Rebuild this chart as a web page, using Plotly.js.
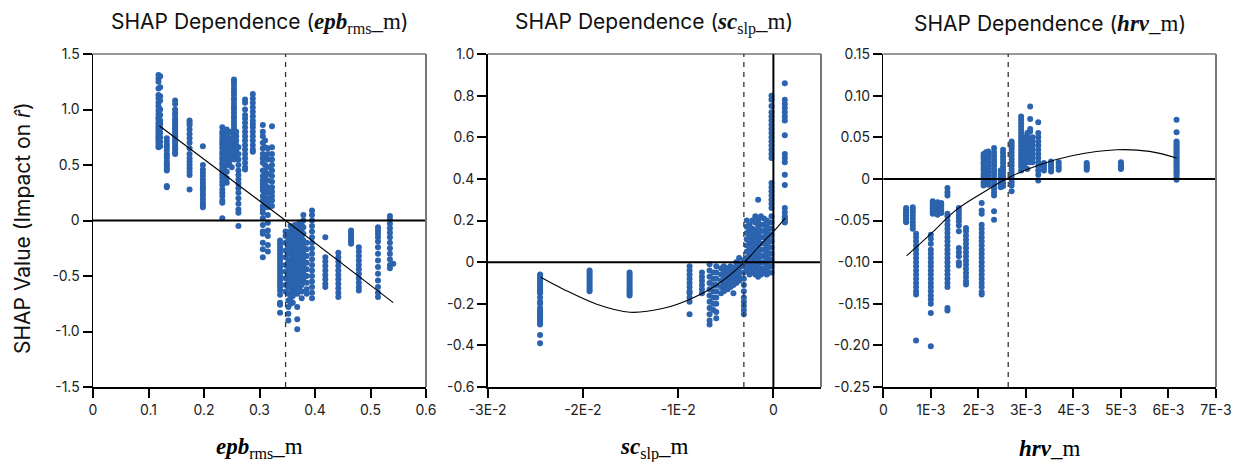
<!DOCTYPE html>
<html><head><meta charset="utf-8">
<script src="https://cdn.plot.ly/plotly-3.0.1.min.js"></script>
<style>html,body{margin:0;padding:0;background:#fff}</style>
</head><body><div id="chart" style="width:1237px;height:462px"></div>
<script>
// ---- Panel 1: epb_rms_m (x of each column, SHAP values in that column)
const epbColX = [0.118,0.121,0.133,0.148,0.174,0.198,0.233,0.237,0.241,0.246,0.25,0.254,0.258,0.262,0.274,0.288,0.306,0.31,0.315,0.3225,
  0.337,0.347,0.352,0.356,0.36,0.364,0.368,0.372,0.376,0.379,0.385,0.3946,0.4186,0.442,0.465,0.479,0.5135,0.535,0.541];
const epbColY = [
 [1.31,1.28,1.25,1.19,1.13,1.1,1.06,1.03,0.99,0.96,0.93,0.91,0.88,0.86,0.84,0.82,0.8,0.78,0.76,0.74,0.72,0.7,0.68,0.66],
 [1.3,1.2,1.12,1.08,1.0,0.95,0.9,0.87,0.83,0.79,0.75,0.71,0.67],
 [0.74,0.71,0.68,0.66,0.63,0.6,0.58,0.56,0.53,0.51,0.49,0.47,0.45,0.31,0.3],
 [1.08,1.05,1.0,0.97,0.95,0.92,0.9,0.88,0.86,0.84,0.82,0.8,0.78,0.76,0.74,0.72,0.7,0.68,0.66,0.64,0.61,0.6],
 [0.9,0.88,0.86,0.82,0.78,0.74,0.7,0.65,0.6,0.56,0.53,0.5,0.47,0.44,0.41,0.28],
 [0.67,0.5,0.46,0.43,0.4,0.37,0.34,0.31,0.29,0.27,0.24,0.22,0.19,0.16,0.14,0.12],
 [0.84,0.8,0.78,0.75,0.72,0.7,0.68,0.65,0.62,0.6,0.57,0.55,0.52,0.5,0.47,0.44,0.41,0.38,0.35,0.32,0.28,0.25,0.22,0.18,0.16,0.02],
 [0.78,0.72,0.66,0.62,0.58,0.54,0.5,0.46,0.42],
 [0.82,0.76,0.7,0.64,0.6,0.56,0.5,0.44,0.38,0.34],
 [0.8,0.74,0.7,0.66,0.62,0.58,0.54,0.5],
 [0.79,0.73,0.68,0.64,0.6,0.56,0.48],
 [1.27,1.25,1.22,1.19,1.16,1.13,1.1,1.08,1.05,1.02,1.0,0.97,0.94,0.92,0.89,0.86,0.83,0.8,0.77,0.74,0.71,0.68,0.65,0.62,0.58,0.55],
 [0.8,0.76,0.72,0.68,0.64,0.6],
 [0.66,0.6,0.55,0.5,0.45,0.41,0.37,0.33,0.29,0.25,0.2,0.15,0.1,0.07,-0.05],
 [1.09,1.06,1.0,0.95,0.92,0.88,0.84,0.8,0.76,0.72,0.68,0.64,0.6,0.56,0.52,0.48,0.46],
 [1.14,1.1,1.06,1.02,0.98,0.94,0.9,0.87,0.84,0.8,0.76,0.72,0.68,0.64,0.62],
 [0.86,0.8,0.76,0.7,0.65,0.6,0.56,0.52,0.45,0.4,0.36,0.33,0.3,0.27,0.22,0.18,0.13,0.1,0.07,0.02,-0.04,-0.1,-0.12,-0.2,-0.26,-0.33],
 [0.72,0.66,0.58,0.5,0.44,0.38,0.32,0.26,0.2,0.15],
 [0.65,0.6,0.55,0.48,0.42,0.36,0.3,0.25,0.2,0.16,0.12,0.05,-0.02,-0.09,-0.14,-0.22,-0.28],
 [0.85,0.66,0.6,0.55,0.5,0.45,0.4,0.35,0.3,0.26,0.22,0.18,0.13],
 [-0.18,-0.21,-0.24,-0.27,-0.3,-0.33,-0.36,-0.39,-0.42,-0.45,-0.48,-0.51,-0.54,-0.57,-0.6,-0.63,-0.67,-0.74,-0.76,-0.83],
 [-0.1,-0.14,-0.2,-0.27,-0.33,-0.4,-0.46,-0.52,-0.58,-0.64],
 [-0.12,-0.18,-0.24,-0.3,-0.36,-0.42,-0.48,-0.54,-0.6,-0.66,-0.72,-0.78,-0.84,-0.9],
 [-0.05,-0.1,-0.15,-0.2,-0.25,-0.3,-0.35,-0.4,-0.45,-0.5,-0.55,-0.6,-0.65,-0.7,-0.75],
 [-0.08,-0.14,-0.2,-0.26,-0.32,-0.38,-0.44,-0.5,-0.56,-0.62,-0.68,-0.74],
 [-0.04,-0.1,-0.16,-0.22,-0.28,-0.34,-0.4,-0.46,-0.52,-0.58,-0.64],
 [-0.06,-0.12,-0.18,-0.24,-0.3,-0.36,-0.42,-0.48,-0.54,-0.6,-0.66,-0.78,-0.89,-0.98],
 [-0.02,-0.08,-0.14,-0.2,-0.26,-0.32,-0.38,-0.44,-0.5,-0.56,-0.62],
 [-0.04,-0.1,-0.16,-0.22,-0.28,-0.34,-0.4,-0.46,-0.52,-0.58,-0.64,-0.7],
 [0.05,0.0,-0.06,-0.12,-0.18,-0.24,-0.3,-0.36,-0.42,-0.48,-0.54],
 [-0.2,-0.26,-0.32,-0.38,-0.44,-0.5,-0.56,-0.62,-0.66],
 [0.09,0.05,0.0,-0.05,-0.1,-0.15,-0.2,-0.25,-0.3,-0.35,-0.4,-0.45,-0.5,-0.55,-0.6,-0.65,-0.7],
 [-0.15,-0.33,-0.37,-0.41,-0.45,-0.49,-0.53,-0.57,-0.6],
 [-0.29,-0.33,-0.37,-0.41,-0.45,-0.49,-0.53,-0.57,-0.61,-0.65,-0.69],
 [-0.09,-0.11,-0.13,-0.15,-0.17,-0.19,-0.21],
 [-0.24,-0.28,-0.32,-0.36,-0.4,-0.44,-0.48,-0.52,-0.56,-0.6,-0.63],
 [-0.06,-0.09,-0.12,-0.15,-0.19,-0.24,-0.3,-0.36,-0.42,-0.48,-0.54,-0.6,-0.65,-0.69],
 [0.04,0.01,-0.03,-0.07,-0.11,-0.15,-0.2,-0.25,-0.3,-0.35,-0.4,-0.43],
 [-0.39]
];
const epbFitX = [0.1195, 0.347, 0.541];
const epbFitY = [0.854, 0.0, -0.74];
const epbCut = 0.347;

// ---- Panel 2: sc_slp_m
const scColX = [-0.0245,-0.0193,-0.0151,-0.0088,-0.0075,-0.0067,-0.0063,-0.006,-0.0055,-0.0052,-0.0048,-0.0045,-0.0042,-0.0039,-0.0036,-0.0031,
  -0.0028,-0.0025,-0.0022,-0.0019,-0.0016,-0.0013,-0.001,-0.0007,-0.0004,-0.0002,0.0012];
const scColY = [
 [-0.06,-0.07,-0.08,-0.09,-0.1,-0.11,-0.12,-0.13,-0.14,-0.15,-0.17,-0.19,-0.2,-0.22,-0.23,-0.24,-0.25,-0.26,-0.27,-0.28,-0.29,-0.3,-0.35,-0.39],
 [-0.04,-0.05,-0.06,-0.07,-0.08,-0.09,-0.1,-0.11,-0.12,-0.13,-0.14],
 [-0.05,-0.06,-0.07,-0.08,-0.09,-0.1,-0.11,-0.12,-0.13,-0.14,-0.15,-0.16],
 [-0.02,-0.04,-0.06,-0.08,-0.1,-0.12,-0.14,-0.15,-0.17,-0.19,-0.25],
 [-0.05,-0.07,-0.09,-0.11,-0.13,-0.15],
 [-0.01,-0.04,-0.07,-0.1,-0.13,-0.16,-0.19,-0.22,-0.25,-0.28,-0.3],
 [-0.05,-0.08,-0.11,-0.14,-0.17,-0.2,-0.23],
 [-0.02,-0.05,-0.08,-0.11,-0.14,-0.17,-0.2,-0.24,-0.27],
 [-0.03,-0.06,-0.09,-0.12,-0.15],
 [-0.02,-0.04,-0.06,-0.08,-0.1,-0.12,-0.14],
 [-0.03,-0.05,-0.07,-0.09,-0.11,-0.13],
 [-0.02,-0.04,-0.06,-0.08,-0.1,-0.12],
 [-0.03,-0.05,-0.07,-0.09,-0.11,-0.15],
 [0.0,-0.02,-0.04,-0.06,-0.08,-0.1],
 [0.02,-0.01,-0.03,-0.05,-0.07,-0.09],
 [0.01,-0.02,-0.05,-0.08,-0.11,-0.14,-0.17,-0.19,-0.21,-0.23,-0.25],
 [0.2,0.17,0.14,0.11,0.08,0.05,0.02,-0.01,-0.04],
 [0.18,0.15,0.12,0.09,0.06,0.03,0.0,-0.03,-0.06],
 [0.2,0.16,0.13,0.1,0.07,0.04,0.01,-0.02,-0.05],
 [0.22,0.19,0.15,0.12,0.09,0.06,0.03,0.0,-0.03,-0.06],
 [0.3,0.2,0.17,0.14,0.11,0.08,0.05,0.02,-0.01,-0.04,-0.07],
 [0.22,0.18,0.15,0.12,0.09,0.06,0.03,0.0,-0.03,-0.06],
 [0.21,0.18,0.15,0.12,0.09,0.06,0.03,0.0,-0.03,-0.05],
 [0.2,0.17,0.14,0.11,0.08,0.05,0.02,-0.01,-0.04,-0.06],
 [0.19,0.16,0.13,0.1,0.07,0.04,0.01,-0.02,-0.05],
 [0.8,0.78,0.75,0.72,0.7,0.68,0.66,0.64,0.62,0.6,0.58,0.56,0.54,0.52,0.5,0.38,0.36,0.34,0.32,0.3,0.28,0.26,0.22,0.19,0.16,0.13,0.1,0.07,0.04,0.01,-0.02,-0.05],
 [0.86,0.78,0.76,0.74,0.72,0.7,0.68,0.61,0.52,0.5,0.48,0.42,0.37,0.26,0.24,0.22,0.21,0.2,0.19]
];
const scFitX = [-0.02443,-0.02206,-0.01855,-0.01505,-0.01155,-0.00875,-0.00595,-0.00315,-0.00105,0.00018,0.00123];
const scFitY = [-0.073,-0.130,-0.202,-0.241,-0.222,-0.178,-0.110,-0.005,0.099,0.155,0.211];
const scCut = -0.0031;

// ---- Panel 3: hrv_m
const hrvColX = [0.00048,0.00062,0.00069,0.001,0.00104,0.00114,0.00122,0.00135,0.00159,0.00174,0.00207,0.00211,0.00216,0.00221,0.00233,0.00247,0.00252,
  0.0027,0.0029,0.00297,0.00303,0.00309,0.00314,0.00326,0.00338,0.00353,0.00369,0.00428,0.005,0.00617];
const hrvColY = [
 [-0.035,-0.038,-0.04,-0.042,-0.044,-0.046,-0.048,-0.05,-0.052],
 [-0.034,-0.037,-0.04,-0.044,-0.048,-0.052,-0.056,-0.06],
 [-0.066,-0.07,-0.075,-0.08,-0.085,-0.09,-0.095,-0.1,-0.105,-0.11,-0.115,-0.12,-0.125,-0.13,-0.135,-0.139,-0.194],
 [-0.067,-0.072,-0.078,-0.085,-0.09,-0.095,-0.1,-0.105,-0.11,-0.115,-0.12,-0.125,-0.13,-0.135,-0.14,-0.145,-0.15,-0.161,-0.201],
 [-0.027,-0.03,-0.033,-0.036,-0.039,-0.042],
 [-0.028,-0.031,-0.034,-0.037,-0.04,-0.043],
 [-0.029,-0.032,-0.035,-0.038,-0.041],
 [-0.011,-0.016,-0.02,-0.042,-0.045,-0.05,-0.055,-0.06,-0.065,-0.07,-0.075,-0.08,-0.085,-0.09,-0.095,-0.1,-0.105,-0.11,-0.115,-0.12,-0.125,-0.13,-0.155,-0.158],
 [-0.035,-0.039,-0.043,-0.047,-0.051,-0.056,-0.063,-0.083,-0.088,-0.093,-0.1,-0.104],
 [-0.059,-0.063,-0.068,-0.073,-0.078,-0.083,-0.088,-0.093,-0.098,-0.103,-0.108,-0.113,-0.118,-0.123,-0.127],
 [-0.029,-0.038,-0.042,-0.055,-0.06,-0.065,-0.07,-0.075,-0.08,-0.085,-0.09,-0.095,-0.1,-0.105,-0.11,-0.115,-0.12,-0.125,-0.13,-0.136,-0.139],
 [0.03,0.027,0.024,0.02,0.017,0.013,0.01,0.006,0.003,0.0,-0.004,-0.008],
 [0.032,0.028,0.024,0.02,0.016,0.012,0.008,0.004,0.0,-0.004],
 [0.033,0.029,0.025,0.021,0.017,0.013,0.009,0.005,0.001,-0.003,-0.007],
 [0.037,0.032,0.028,0.024,0.02,0.016,0.012,0.008,0.004,0.0,-0.004,-0.008,-0.012,-0.016,-0.02,-0.039,-0.049],
 [0.01,0.006,0.002,-0.002,-0.006,-0.01],
 [0.035,0.031,0.027,0.023,0.019,0.015,0.011,0.007,0.003,-0.001,-0.005,-0.009],
 [0.045,0.042,0.039,0.036,0.032,0.028,0.024,0.02,0.016,0.012,0.008,0.004,0.0,-0.004,-0.008,-0.015],
 [0.075,0.071,0.067,0.063,0.059,0.055,0.051,0.047,0.043,0.039,0.035,0.031,0.027,0.023,0.019,0.015,0.01],
 [0.05,0.045,0.04,0.035,0.03,0.025,0.02,0.015],
 [0.055,0.05,0.045,0.04,0.035,0.03,0.025,0.02,0.012],
 [0.087,0.072,0.06,0.057,0.045,0.04,0.035,0.03,0.025,0.02],
 [0.05,0.045,0.04,0.035,0.03,0.025,0.02],
 [0.068,0.055,0.05,0.045,0.04,0.035,0.03,0.025,0.02,0.015,0.01,0.005,-0.002],
 [0.019,0.016,0.013,0.01],
 [0.021,0.018,0.015,0.012,0.009],
 [0.02,0.017,0.014,0.011],
 [0.019,0.017,0.015,0.013,0.011],
 [0.02,0.018,0.016,0.014,0.012],
 [0.071,0.056,0.045,0.043,0.041,0.039,0.037,0.035,0.033,0.031,0.029,0.027,0.025,0.023,0.021,0.019,0.017,0.015,0.013,0.011,0.009,0.007,0.005,0.002,-0.001]
];
const hrvFitX = [0.000491,0.000982,0.00154,0.0021,0.00262,0.00329,0.00399,0.00491,0.0056,0.00617];
const hrvFitY = [-0.0924,-0.067,-0.037,-0.0163,0.001,0.017,0.028,0.035,0.033,0.025];
const hrvCut = 0.002628;

// ---- Axis ticks
const epbXTicks = [0,0.1,0.2,0.3,0.4,0.5,0.6];
const epbXText = ['0','0.1','0.2','0.3','0.4','0.5','0.6'];
const epbYTicks = [1.5,1.0,0.5,0,-0.5,-1.0,-1.5];
const epbYText = ['1.5','1.0','0.5','0','-0.5','-1.0','-1.5'];
const scXTicks = [-0.03,-0.02,-0.01,0];
const scXText = ['-3E-2','-2E-2','-1E-2','0'];
const scYTicks = [1.0,0.8,0.6,0.4,0.2,0,-0.2,-0.4,-0.6];
const scYText = ['1.0','0.8','0.6','0.4','0.2','0','-0.2','-0.4','-0.6'];
const hrvXTicks = [0,0.001,0.002,0.003,0.004,0.005,0.006,0.007];
const hrvXText = ['0','1E-3','2E-3','3E-3','4E-3','5E-3','6E-3','7E-3'];
const hrvYTicks = [0.15,0.10,0.05,0,-0.05,-0.10,-0.15,-0.20,-0.25];
const hrvYText = ['0.15','0.10','0.05','0','-0.05','-0.10','-0.15','-0.20','-0.25'];

const SANS = 'Inter, "Noto Sans", sans-serif';
const SERIF = '"Liberation Serif", "DejaVu Serif", serif';
const DOT = '#2b63ae';

function expand(cx, cy){ const X=[],Y=[]; cx.forEach((x,i)=>cy[i].forEach(y=>{X.push(x);Y.push(y);})); return {X,Y}; }

const panels = [
  {cx:epbColX, cy:epbColY, fx:epbFitX, fy:epbFitY, cut:epbCut, xr:[0,0.6], yr:[-1.5,1.5], xt:epbXTicks, xtt:epbXText, yt:epbYTicks, ytt:epbYText,
   dom:[93/1237,426/1237], label:'<b><i>epb</i></b><sub>rms</sub>_m', vzero:false},
  {cx:scColX, cy:scColY, fx:scFitX, fy:scFitY, cut:scCut, xr:[-0.03,0.005], yr:[-0.6,1.0], xt:scXTicks, xtt:scXText, yt:scYTicks, ytt:scYText,
   dom:[487.7/1237,821/1237], label:'<b><i>sc</i></b><sub>slp</sub>_m', vzero:true},
  {cx:hrvColX, cy:hrvColY, fx:hrvFitX, fy:hrvFitY, cut:hrvCut, xr:[0,0.007], yr:[-0.25,0.15], xt:hrvXTicks, xtt:hrvXText, yt:hrvYTicks, ytt:hrvYText,
   dom:[883.3/1237,1216/1237], label:'<b><i>hrv</i></b>_m', vzero:false}
];

const data=[], shapes=[], annotations=[];
const layout = {width:1237, height:462, margin:{l:0,r:0,t:0,b:0}, paper_bgcolor:'#fff', plot_bgcolor:'#fff', showlegend:false,
  font:{family:SANS, size:14, color:'#222'}};
const yDom = [1-387/462, 1-54/462];

panels.forEach((p,i)=>{
  const n = i===0?'':String(i+1);
  const xa='x'+n, ya='y'+n;
  const e = expand(p.cx,p.cy);
  data.push({type:'scatter', mode:'markers', x:e.X, y:e.Y, xaxis:xa, yaxis:ya,
    marker:{color:DOT, size:6, line:{width:0}}, cliponaxis:true, hoverinfo:'skip'});
  data.push({type:'scatter', mode:'lines', x:p.fx, y:p.fy, xaxis:xa, yaxis:ya,
    line:{color:'#000', width:1.1, shape:'spline', smoothing:1}, hoverinfo:'skip'});
  layout['xaxis'+n] = {domain:p.dom, range:p.xr, anchor:ya, showgrid:false, zeroline:false,
    tickmode:'array', tickvals:p.xt, ticktext:p.xtt, ticks:'outside', ticklen:9, tickwidth:2, tickcolor:'#000',
    showline:true, linecolor:'#000', linewidth:2, tickfont:{family:SANS,size:14,color:'#222'}, fixedrange:true};
  layout['yaxis'+n] = {domain:yDom, range:p.yr, anchor:xa, showgrid:false, zeroline:false,
    tickmode:'array', tickvals:p.yt, ticktext:p.ytt, ticks:'outside', ticklen:9, tickwidth:2, tickcolor:'#000',
    showline:true, linecolor:'#000', linewidth:1.5, tickfont:{family:SANS,size:14,color:'#222'}, fixedrange:true};
  shapes.push({type:'line', xref:xa+' domain', yref:ya, x0:0, x1:1, y0:0, y1:0, line:{color:'#000', width:2}, layer:'above'});
  if(p.vzero) shapes.push({type:'line', xref:xa, yref:ya+' domain', x0:0, x1:0, y0:0, y1:1, line:{color:'#000', width:2}, layer:'above'});
  shapes.push({type:'line', xref:xa, yref:ya+' domain', x0:p.cut, x1:p.cut, y0:0, y1:1, line:{color:'#333', width:1.3, dash:'5px,5px'}, layer:'above'});
  shapes.push({type:'line', xref:xa+' domain', yref:ya+' domain', x0:0, x1:1, y0:1, y1:1, line:{color:'#333', width:1}});
  shapes.push({type:'line', xref:xa+' domain', yref:ya+' domain', x0:1, x1:1, y0:0, y1:1, line:{color:'#777', width:2}});
  const cx = (p.dom[0]+p.dom[1])/2;
  annotations.push({xref:'paper', yref:'paper', x:cx, y:1-23/462, xanchor:'center', yanchor:'middle', showarrow:false,
    text:'SHAP Dependence (<span style="font-family:'+SERIF.replace(/"/g,"'")+';font-size:23px">'+p.label+'</span>)', font:{family:SANS,size:21,color:'#111'}});
  annotations.push({xref:'paper', yref:'paper', x:cx, y:1-448/462, xanchor:'center', yanchor:'middle', showarrow:false,
    text:p.label, font:{family:SERIF,size:23,color:'#000'}});
});
annotations.push({xref:'paper', yref:'paper', x:23/1237, y:1-228/462, xanchor:'center', yanchor:'middle', showarrow:false, textangle:-90,
  text:'SHAP Value (Impact on <i>r̂</i>)', font:{family:SANS,size:21,color:'#111'}});
layout.shapes = shapes; layout.annotations = annotations;
Plotly.newPlot('chart', data, layout, {displayModeBar:false, staticPlot:true});
</script></body></html>
